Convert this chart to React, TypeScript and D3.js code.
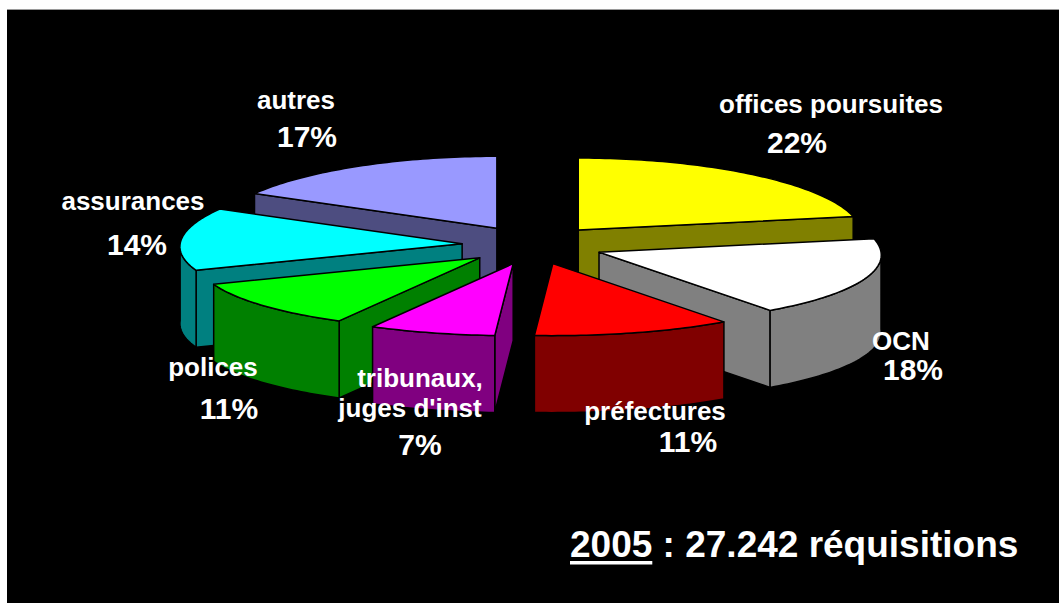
import React from "react";
import * as d3 from "d3";

// ---------- data ----------
const categories: string[][] = [
  ["offices poursuites"],
  ["OCN"],
  ["préfectures"],
  ["tribunaux,", "juges d'inst"],
  ["polices"],
  ["assurances"],
  ["autres"],
];
const values: number[] = [22, 18, 11, 7, 11, 14, 17];
const pctLabels: string[] = ["22%", "18%", "11%", "7%", "11%", "14%", "17%"];
const topColors: string[] = ["#FFFF00", "#FFFFFF", "#FF0000", "#FF00FF", "#00FF00", "#00FFFF", "#9999FF"];
const sideColors: string[] = ["#808000", "#808080", "#800000", "#800080", "#008000", "#008080", "#4D4D80"];
const titleYear = "2005";
const titleRest = " : 27.242 réquisitions";

// ---------- layout (not data) ----------
const W = 1059;
const H = 603;
const CX = 533;
const CY = 245;
const RX = 282;
const RY = 72;
const DEPTH = 77;
const EXPLODE_X = 71;
const EXPLODE_Y = 19.4;
const PERSP = 0.04;

// label anchors: name lines [x, baseline] and percent [x, baseline]
const nameAnchors: number[][][] = [
  [[831, 113]],
  [[901, 350]],
  [[655, 420]],
  [[420, 387], [410, 417]],
  [[213, 376]],
  [[133, 210]],
  [[296, 109]],
];
const pctAnchors: number[][] = [
  [797, 153],
  [913, 380],
  [688, 452],
  [420, 455],
  [229, 419],
  [137, 255],
  [307, 147],
];

const FONT = "'Liberation Sans', Arial, sans-serif";

type Pt = [number, number];

export default function App() {
  const pie = d3.pie<number>().sort(null).value((d) => d);
  const arcs = pie(values);
  const line = d3.line<Pt>();

  const slices = arcs.map((a, i) => {
    const a0 = a.startAngle;
    const a1 = a.endAngle;
    const mid = (a0 + a1) / 2;
    const ox = EXPLODE_X * Math.sin(mid);
    const oy = -EXPLODE_Y * Math.cos(mid);
    const P = (t: number, z: number): Pt => [
      CX + ox + RX * Math.sin(t) * (1 - PERSP * Math.cos(t)),
      CY + oy - RY * Math.cos(t) + z,
    ];
    const V = (z: number): Pt => [CX + ox, CY + oy + z];
    const sample = (s: number, e: number, z: number): Pt[] => {
      const n = Math.max(2, Math.ceil((e - s) / 0.02));
      const pts: Pt[] = [];
      for (let k = 0; k <= n; k++) pts.push(P(s + ((e - s) * k) / n, z));
      return pts;
    };
    const faces: { d: string; fill: string }[] = [];
    if (Math.sin(a0) < -1e-6) {
      faces.push({ d: line([V(0), P(a0, 0), P(a0, DEPTH), V(DEPTH)])! + "Z", fill: sideColors[i] });
    }
    if (Math.sin(a1) > 1e-6) {
      faces.push({ d: line([V(0), P(a1, 0), P(a1, DEPTH), V(DEPTH)])! + "Z", fill: sideColors[i] });
    }
    const s = Math.max(a0, Math.PI / 2);
    const e = Math.min(a1, (3 * Math.PI) / 2);
    if (e > s) {
      const topPts = sample(s, e, 0);
      const botPts = sample(s, e, DEPTH).reverse();
      faces.push({ d: line([...topPts, ...botPts])! + "Z", fill: sideColors[i] });
    }
    const top = line([V(0), ...sample(a0, a1, 0)])! + "Z";
    const key = oy - 0.5 * RY * Math.cos(mid);
    return { i, faces, top, key };
  });

  const ordered = [...slices].sort((p, q) => p.key - q.key);
  const fsName = 26;
  const fsPct = 30;
  const fsTitle = 37;

  return (
    <svg
      width={W}
      height={H}
      style={{ position: "absolute", left: 0, top: 0, display: "block" }}
    >
      <rect x={0} y={0} width={W} height={H} fill="#ffffff" />
      <rect x={7} y={9} width={W - 7} height={H - 9} fill="#000000" />
      <line x1={7} x2={W} y1={9.5} y2={9.5} stroke="#9a9a9a" strokeWidth={1} />

      {ordered.map((sl) => (
        <g key={sl.i}>
          {sl.faces.map((f, k) => (
            <path key={k} d={f.d} fill={f.fill} stroke="#000" strokeWidth={1.5} strokeLinejoin="round" />
          ))}
          <path d={sl.top} fill={topColors[sl.i]} stroke="#000" strokeWidth={1.5} strokeLinejoin="round" />
        </g>
      ))}

      <g fill="#ffffff" fontFamily={FONT} fontWeight="bold" textAnchor="middle">
        {categories.map((lines, i) => (
          <g key={i}>
            {lines.map((ln, k) => (
              <text key={k} x={nameAnchors[i][k][0]} y={nameAnchors[i][k][1]} fontSize={fsName}>
                {ln}
              </text>
            ))}
            <text x={pctAnchors[i][0]} y={pctAnchors[i][1]} fontSize={fsPct}>
              {pctLabels[i]}
            </text>
          </g>
        ))}
      </g>

      <text x={570} y={557} fill="#ffffff" fontFamily={FONT} fontWeight="bold" fontSize={fsTitle}>
        <tspan>{titleYear}</tspan>
        <tspan>{titleRest}</tspan>
      </text>
      <rect x={570} y={561} width={titleYear.length * 0.556 * fsTitle} height={3.5} fill="#ffffff" />
    </svg>
  );
}
